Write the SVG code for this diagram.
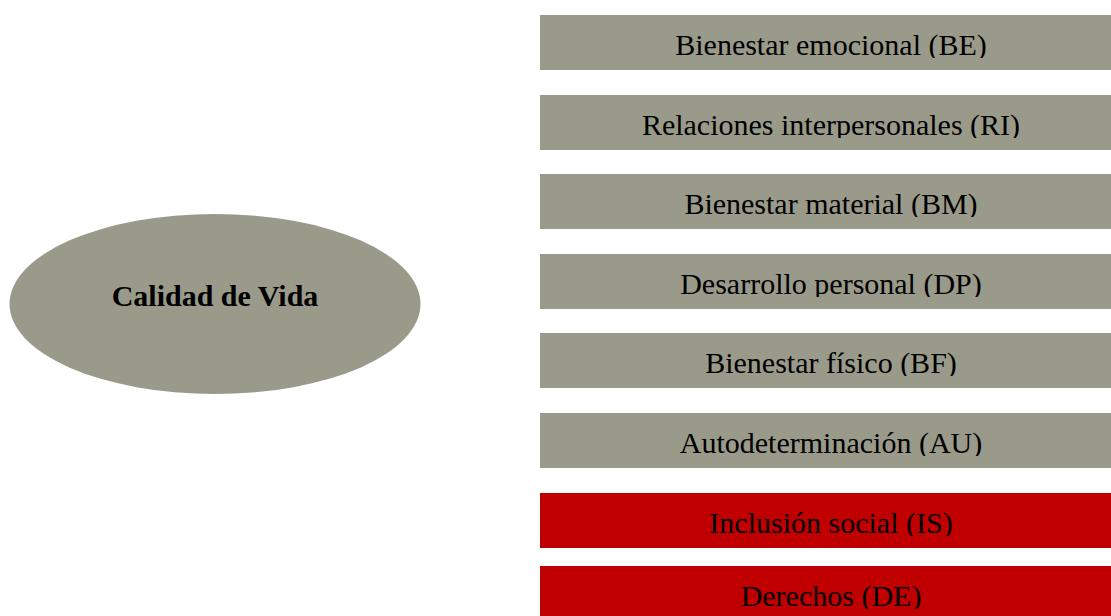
<svg xmlns="http://www.w3.org/2000/svg" width="1111" height="616" viewBox="0 0 1111 616">
<style>
.g{fill:#9A9A8B}
.r{fill:#C00000}
.t{font-family:"Liberation Serif","Times New Roman",serif;font-size:30px;fill:#000;text-anchor:middle}
.b{font-weight:bold}
</style>
<defs>
<clipPath id="c1"><rect x="540" y="15" width="571" height="43"/></clipPath>
<clipPath id="c2"><rect x="540" y="95" width="571" height="43"/></clipPath>
<clipPath id="c3"><rect x="540" y="174" width="571" height="43"/></clipPath>
<clipPath id="c4"><rect x="540" y="254" width="571" height="43"/></clipPath>
<clipPath id="c5"><rect x="540" y="333" width="571" height="43"/></clipPath>
<clipPath id="c6"><rect x="540" y="413" width="571" height="43"/></clipPath>
<clipPath id="c7"><rect x="540" y="493" width="571" height="43"/></clipPath>
<clipPath id="c8"><rect x="540" y="566" width="571" height="43"/></clipPath>
</defs>
<rect width="1111" height="616" fill="#fff"/>
<g id="connectors"></g>
<g id="calidad">
<ellipse class="g" cx="215" cy="304" rx="205.5" ry="90"/>
<text class="t b" x="215" y="306">Calidad de Vida</text>
</g>
<g id="be">
<rect class="g" x="540" y="15" width="571" height="55"/>
<text class="t" x="831" y="55" clip-path="url(#c1)">Bienestar emocional (BE)</text>
</g>
<g id="ri">
<rect class="g" x="540" y="95" width="571" height="55"/>
<text class="t" x="831" y="135" clip-path="url(#c2)">Relaciones interpersonales (RI)</text>
</g>
<g id="bm">
<rect class="g" x="540" y="174" width="571" height="55"/>
<text class="t" x="831" y="214" clip-path="url(#c3)">Bienestar material (BM)</text>
</g>
<g id="dp">
<rect class="g" x="540" y="254" width="571" height="55"/>
<text class="t" x="831" y="294" clip-path="url(#c4)">Desarrollo personal (DP)</text>
</g>
<g id="bf">
<rect class="g" x="540" y="333" width="571" height="55"/>
<text class="t" x="831" y="373" clip-path="url(#c5)">Bienestar físico (BF)</text>
</g>
<g id="au">
<rect class="g" x="540" y="413" width="571" height="55"/>
<text class="t" x="831" y="453" clip-path="url(#c6)">Autodeterminación (AU)</text>
</g>
<g id="is">
<rect class="r" x="540" y="493" width="571" height="55"/>
<text class="t" x="831" y="533" clip-path="url(#c7)">Inclusión social (IS)</text>
</g>
<g id="de">
<rect class="r" x="540" y="566" width="571" height="55"/>
<text class="t" x="831" y="606" clip-path="url(#c8)">Derechos (DE)</text>
</g>
</svg>
